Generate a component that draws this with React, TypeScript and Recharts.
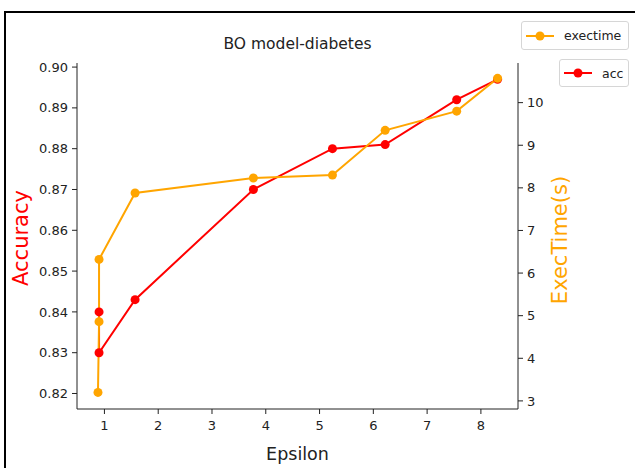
import React from "react";
import { LineChart, Line, XAxis, YAxis } from "recharts";

// values (no visible acc point at the first epsilon)
const epsilon = [0.88, 0.9, 0.9, 1.57, 3.77, 5.24, 6.22, 7.55, 8.31];
const accuracy = [null, 0.84, 0.83, 0.843, 0.87, 0.88, 0.881, 0.892, 0.897];
const execTime = [3.2, 4.86, 6.32, 7.88, 8.23, 8.3, 9.35, 9.8, 10.57];

const epsilonTicks = [1, 2, 3, 4, 5, 6, 7, 8];
const accTicks = [0.82, 0.83, 0.84, 0.85, 0.86, 0.87, 0.88, 0.89, 0.9];
const timeTicks = [3, 4, 5, 6, 7, 8, 9, 10];

const ACC_COLOR = "#ff0000";
const TIME_COLOR = "#ffa500";
const AXIS = "#222";
const FONT = "'DejaVu Sans', sans-serif";

const data = epsilon.map((e, i) => ({
  epsilon: e,
  acc: accuracy[i],
  exectime: execTime[i],
}));

const tickStyle = { fontSize: 13, fill: AXIS, fontFamily: FONT };

function LegendBox({
  label,
  color,
  style,
}: {
  label: string;
  color: string;
  style: React.CSSProperties;
}) {
  return (
    <div
      style={{
        position: "absolute",
        boxSizing: "border-box",
        border: "1px solid #d6d6d6",
        borderRadius: 3,
        background: "#fff",
        display: "flex",
        alignItems: "center",
        paddingLeft: 4,
        fontSize: 12.5,
        color: "#222",
        fontFamily: FONT,
        ...style,
      }}
    >
      <svg width={28} height={12} style={{ marginRight: 10 }}>
        <line x1={0} y1={6} x2={28} y2={6} stroke={color} strokeWidth={2} />
        <circle cx={14} cy={6} r={4.5} fill={color} />
      </svg>
      {label}
    </div>
  );
}

export default function App() {
  return (
    <div
      style={{
        position: "absolute",
        left: 0,
        top: 0,
        width: 635,
        height: 468,
        background: "#fff",
        overflow: "hidden",
        fontFamily: FONT,
      }}
    >
      <div
        style={{
          position: "absolute",
          left: 4,
          top: 11,
          width: 640,
          height: 470,
          borderLeft: "2px solid #000",
          borderTop: "2px solid #000",
        }}
      />
      <div
        style={{
          position: "absolute",
          left: 77,
          width: 441,
          top: 37,
          textAlign: "center",
          fontSize: 15.5,
          lineHeight: 1,
          color: "#222",
        }}
      >
        BO model-diabetes
      </div>
      <LineChart
        width={635}
        height={468}
        data={data}
        margin={{ top: 63, right: 0, bottom: 0, left: 0 }}
        style={{ position: "absolute", left: 0, top: 0 }}
      >
        <XAxis
          xAxisId="top"
          orientation="top"
          dataKey="epsilon"
          type="number"
          domain={[0.49, 8.69]}
          height={0}
          tick={false}
          tickLine={false}
          stroke={AXIS}
        />
        <XAxis
          dataKey="epsilon"
          type="number"
          domain={[0.49, 8.69]}
          ticks={epsilonTicks}
          height={59}
          tickSize={5}
          tickMargin={7}
          stroke={AXIS}
          tick={tickStyle}
          label={(p: any) => (
            <text
              x={p.viewBox.x + p.viewBox.width / 2}
              y={p.viewBox.y + 51}
              textAnchor="middle"
              fontSize={17.5}
              fill={AXIS}
              fontFamily={FONT}
            >
              Epsilon
            </text>
          )}
        />
        <YAxis
          yAxisId="acc"
          type="number"
          domain={[0.8162, 0.901]}
          ticks={accTicks}
          tickFormatter={(v: number) => v.toFixed(2)}
          width={77}
          tickSize={5}
          tickMargin={4}
          stroke={AXIS}
          tick={tickStyle}
          label={(p: any) => {
            const cx = p.viewBox.x + 21;
            const cy = 238;
            return (
              <text
                x={cx}
                y={cy}
                transform={`rotate(-90 ${cx} ${cy})`}
                textAnchor="middle"
                dominantBaseline="central"
                fontSize={21}
                fill={ACC_COLOR}
                fontFamily={FONT}
              >
                Accuracy
              </text>
            );
          }}
        />
        <YAxis
          yAxisId="time"
          orientation="right"
          type="number"
          domain={[2.81, 10.93]}
          ticks={timeTicks}
          width={117}
          tickSize={5}
          tickMargin={4}
          stroke={AXIS}
          tick={tickStyle}
          label={(p: any) => {
            const cx = p.viewBox.x + 42;
            const cy = 240;
            return (
              <text
                x={cx}
                y={cy}
                transform={`rotate(-90 ${cx} ${cy})`}
                textAnchor="middle"
                dominantBaseline="central"
                fontSize={21}
                fill={TIME_COLOR}
                fontFamily={FONT}
              >
                ExecTime(s)
              </text>
            );
          }}
        />
        <Line
          yAxisId="acc"
          dataKey="acc"
          type="linear"
          stroke={ACC_COLOR}
          strokeWidth={2}
          dot={{ r: 4.5, fill: ACC_COLOR, stroke: "none" }}
          isAnimationActive={false}
        />
        <Line
          yAxisId="time"
          dataKey="exectime"
          type="linear"
          stroke={TIME_COLOR}
          strokeWidth={2}
          dot={{ r: 4.5, fill: TIME_COLOR, stroke: "none" }}
          isAnimationActive={false}
        />
      </LineChart>
      <LegendBox
        label="exectime"
        color={TIME_COLOR}
        style={{ left: 521, top: 21, width: 108, height: 29 }}
      />
      <LegendBox
        label="acc"
        color={ACC_COLOR}
        style={{ left: 559, top: 59, width: 70, height: 28 }}
      />
    </div>
  );
}
